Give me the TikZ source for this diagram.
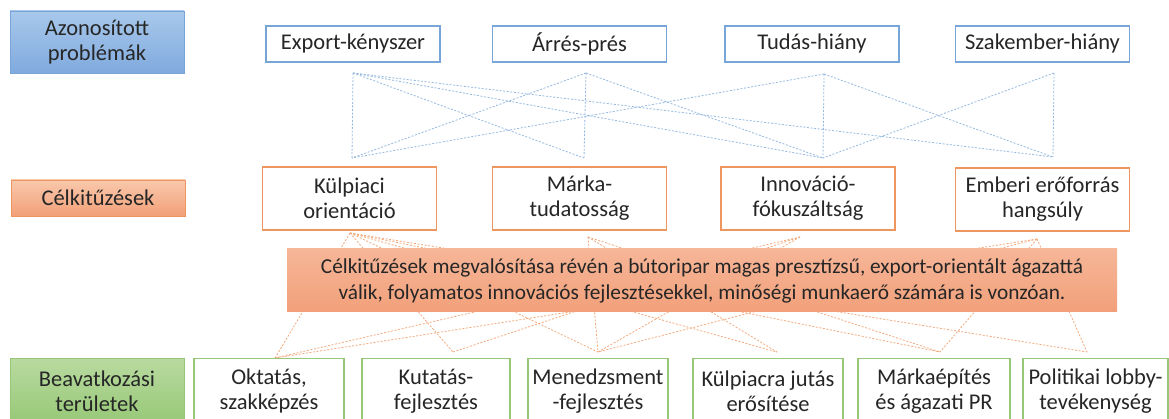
\documentclass[tikz,border=0pt]{standalone}
\usepackage{fontspec}
\setmainfont{Carlito}
\definecolor{txtc}{RGB}{38,38,38}
\definecolor{bluec}{RGB}{120,165,215}
\definecolor{orc}{RGB}{238,150,95}
\definecolor{grc}{RGB}{150,200,120}
\definecolor{bluel}{RGB}{150,185,225}
\definecolor{orl}{RGB}{242,170,125}
\definecolor{labbt}{RGB}{168,200,235}
\definecolor{labbb}{RGB}{128,170,222}
\definecolor{labot}{RGB}{249,200,172}
\definecolor{labob}{RGB}{242,160,120}
\definecolor{labgt}{RGB}{185,218,160}
\definecolor{labgb}{RGB}{150,200,118}
\definecolor{sumt}{RGB}{246,182,152}
\definecolor{sumb}{RGB}{242,160,122}
\begin{document}
\begin{tikzpicture}[x=1pt,y=-1pt,
  txt/.style={font=\fontsize{22.5}{25}\selectfont, text=txtc, align=center, inner sep=0pt},
  probbox/.style={txt, draw=bluec, line width=1.3pt, fill=white, minimum width=174pt, minimum height=36pt},
  objbox/.style={txt, draw=orc, line width=1.3pt, fill=white, minimum width=174pt, minimum height=63pt},
  intbox/.style={txt, draw=grc, line width=1.3pt, fill=white, minimum height=66pt},
  labbox/.style={txt, minimum width=174pt},
  bline/.style={draw=bluel, line width=0.8pt, dash pattern=on 2pt off 1.6pt},
  oline/.style={draw=orl, line width=0.8pt, dash pattern=on 2pt off 1.6pt}]
\useasboundingbox (0,0) rectangle (1169,419);
\clip (0,0) rectangle (1169,419);
\fill[white] (0,0) rectangle (1169,419);

% side labels
\node[labbox, minimum height=62pt, draw=bluec, line width=0.6pt, top color=labbt, bottom color=labbb] (lab1) at (97,42) {Azonosított\\problémák};
\node[labbox, minimum height=36pt, draw=orc, line width=0.6pt, top color=labot, bottom color=labob] (lab2) at (98,198) {Célkitűzések};
\node[labbox, minimum height=66pt, draw=grc, line width=0.6pt, top color=labgt, bottom color=labgb] (lab3) at (97,391) {Beavatkozási\\területek};

% connector points
\coordinate (p1) at (353,73);
\coordinate (p2) at (586,73);
\coordinate (p3) at (824,74);
\coordinate (p4) at (1054,73);
\coordinate (q1) at (352,158);
\coordinate (q2) at (584,158);
\coordinate (q3) at (823,158);
\coordinate (q4) at (1053,157);

\coordinate (o1) at (350,233);
\coordinate (o2) at (588,237);
\coordinate (o3) at (800,237);
\coordinate (o4) at (1037,239);
\coordinate (i1) at (275,358);
\coordinate (i2) at (453,352);
\coordinate (i3) at (598,352);
\coordinate (i4) at (777,352);
\coordinate (i5) at (940,352);
\coordinate (i6) at (1087,352);

% blue dashed connectors
\foreach \a/\b in {p1/q1,p1/q2,p1/q3,p1/q4,p2/q1,p2/q2,p2/q3,p3/q1,p3/q3,p3/q4,p4/q3,p4/q4}
  \draw[bline] (\a) -- (\b);

% orange dashed connectors
\foreach \a/\b in {o1/i1,o1/i2,o1/i3,o1/i4,o1/i5,o1/i6,o2/i3,o2/i4,o2/i5,o3/i1,o3/i2,o3/i3,o4/i1,o4/i3,o4/i5,o4/i6}
  \draw[oline] (\a) -- (\b);

% problems
\node[probbox] (pr1) at (353,44) {Export-kényszer};
\node[probbox] (pr2) at (579.5,44) {Árrés-prés};
\node[probbox] (pr3) at (812,44) {Tudás-hiány};
\node[probbox] (pr4) at (1042.5,44) {Szakember-hiány};

% objectives
\node[objbox] (ob1) at (349.5,198.5) {Külpiaci\\orientáció};
\node[objbox] (ob2) at (579.5,198.5) {Márka-\\tudatosság};
\node[objbox] (ob3) at (808,198.5) {Innováció-\\fókuszáltság};
\node[objbox] (ob4) at (1042.5,199.5) {Emberi erőforrás\\hangsúly};

% summary
\node[txt, font=\fontsize{21.3}{26}\selectfont, minimum width=830pt, minimum height=63pt, top color=sumt, bottom color=sumb] (sum) at (702,280.5)
 {Célkitűzések megvalósítása révén a bútoripar magas presztízsű, export-orientált ágazattá\\válik, folyamatos innovációs fejlesztésekkel, minőségi munkaerő számára is vonzóan.};

% intervention areas
\node[intbox, minimum width=150pt] (in1) at (269,391.5) {Oktatás,\\szakképzés};
\node[intbox, minimum width=148pt] (in2) at (436,391.5) {Kutatás-\\fejlesztés};
\node[intbox, minimum width=140pt] (in3) at (598,391.5) {Menedzsment\\-fejlesztés};
\node[intbox, minimum width=150pt] (in4) at (768,391.5) {Külpiacra jutás\\erősítése};
\node[intbox, minimum width=152pt] (in5) at (934,391.5) {Márkaépítés\\és ágazati PR};
\node[intbox, minimum width=145pt] (in6) at (1095.5,391.5) {Politikai lobby-\\tevékenység};
\end{tikzpicture}
\end{document}
